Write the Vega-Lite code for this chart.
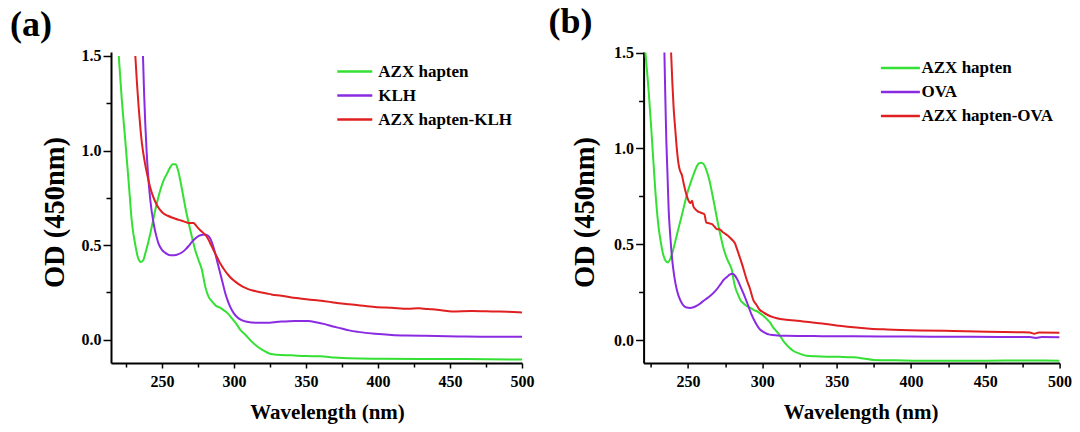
{
  "$schema": "https://vega.github.io/schema/vega-lite/v6.json",
  "background": "white",
  "padding": {"left": 10, "top": 3, "right": 5, "bottom": 5},
  "bounds": "flush",
  "spacing": 121.6,
  "config": {
    "font": "Liberation Serif",
    "view": {"stroke": null},
    "axis": {"domainColor": "black", "domainWidth": 2, "tickColor": "black", "tickWidth": 1.5, "labelFont": "Liberation Serif", "labelFontWeight": "bold", "labelFontSize": 16, "labelColor": "black", "titleFont": "Liberation Serif", "titleFontWeight": "bold", "titleColor": "black", "grid": false},
    "legend": {"orient": "none", "title": null, "symbolType": "M-5,0H5", "symbolStrokeWidth": 2.5, "labelFont": "Liberation Serif", "labelFontWeight": "bold", "labelFontSize": 17, "labelColor": "black", "rowPadding": 6, "padding": 0},
    "title": {"font": "Liberation Serif", "fontWeight": "bold", "fontSize": 36, "color": "black", "anchor": "start", "frame": "group", "offset": 4}
  },
  "datasets": {
    "a": [
      {"x":220,"y":1.5,"s":"AZX hapten"},{"x":222,"y":1.28,"s":"AZX hapten"},{"x":224.5,"y":1.054,"s":"AZX hapten"},{"x":227,"y":0.82,"s":"AZX hapten"},{"x":229.2,"y":0.614,"s":"AZX hapten"},{"x":231.5,"y":0.5,"s":"AZX hapten"},{"x":233.5,"y":0.43,"s":"AZX hapten"},{"x":235.4,"y":0.411,"s":"AZX hapten"},{"x":237,"y":0.42,"s":"AZX hapten"},{"x":238.4,"y":0.455,"s":"AZX hapten"},{"x":240,"y":0.5,"s":"AZX hapten"},{"x":241.9,"y":0.561,"s":"AZX hapten"},{"x":245.3,"y":0.684,"s":"AZX hapten"},{"x":248.8,"y":0.79,"s":"AZX hapten"},{"x":251,"y":0.84,"s":"AZX hapten"},{"x":253.5,"y":0.878,"s":"AZX hapten"},{"x":256,"y":0.915,"s":"AZX hapten"},{"x":257.5,"y":0.927,"s":"AZX hapten"},{"x":259.5,"y":0.927,"s":"AZX hapten"},{"x":260.8,"y":0.905,"s":"AZX hapten"},{"x":262.7,"y":0.843,"s":"AZX hapten"},{"x":264.5,"y":0.77,"s":"AZX hapten"},{"x":266.2,"y":0.7,"s":"AZX hapten"},{"x":269.7,"y":0.578,"s":"AZX hapten"},{"x":273.1,"y":0.473,"s":"AZX hapten"},{"x":275.4,"y":0.42,"s":"AZX hapten"},{"x":277.8,"y":0.367,"s":"AZX hapten"},{"x":280.1,"y":0.279,"s":"AZX hapten"},{"x":282.4,"y":0.226,"s":"AZX hapten"},{"x":285,"y":0.2,"s":"AZX hapten"},{"x":287,"y":0.182,"s":"AZX hapten"},{"x":290,"y":0.17,"s":"AZX hapten"},{"x":292.8,"y":0.156,"s":"AZX hapten"},{"x":295.5,"y":0.14,"s":"AZX hapten"},{"x":298.6,"y":0.112,"s":"AZX hapten"},{"x":301.5,"y":0.085,"s":"AZX hapten"},{"x":304.4,"y":0.052,"s":"AZX hapten"},{"x":307.4,"y":0.03,"s":"AZX hapten"},{"x":312.5,"y":-0.012,"s":"AZX hapten"},{"x":316,"y":-0.035,"s":"AZX hapten"},{"x":320,"y":-0.055,"s":"AZX hapten"},{"x":325,"y":-0.075,"s":"AZX hapten"},{"x":330,"y":-0.08,"s":"AZX hapten"},{"x":340,"y":-0.083,"s":"AZX hapten"},{"x":350,"y":-0.087,"s":"AZX hapten"},{"x":360,"y":-0.088,"s":"AZX hapten"},{"x":370,"y":-0.095,"s":"AZX hapten"},{"x":380,"y":-0.099,"s":"AZX hapten"},{"x":400,"y":-0.101,"s":"AZX hapten"},{"x":430,"y":-0.102,"s":"AZX hapten"},{"x":460,"y":-0.103,"s":"AZX hapten"},{"x":500,"y":-0.105,"s":"AZX hapten"},
      {"x":236.8,"y":1.5,"s":"KLH"},{"x":237.6,"y":1.3,"s":"KLH"},{"x":238.4,"y":1.142,"s":"KLH"},{"x":239.3,"y":1.0,"s":"KLH"},{"x":240.3,"y":0.878,"s":"KLH"},{"x":241.9,"y":0.737,"s":"KLH"},{"x":244.2,"y":0.614,"s":"KLH"},{"x":246,"y":0.55,"s":"KLH"},{"x":247.6,"y":0.508,"s":"KLH"},{"x":250,"y":0.475,"s":"KLH"},{"x":252.3,"y":0.459,"s":"KLH"},{"x":255.8,"y":0.446,"s":"KLH"},{"x":258.5,"y":0.446,"s":"KLH"},{"x":261.5,"y":0.452,"s":"KLH"},{"x":264,"y":0.462,"s":"KLH"},{"x":266.2,"y":0.476,"s":"KLH"},{"x":268.5,"y":0.495,"s":"KLH"},{"x":270.8,"y":0.517,"s":"KLH"},{"x":273.5,"y":0.537,"s":"KLH"},{"x":276.6,"y":0.552,"s":"KLH"},{"x":280.1,"y":0.556,"s":"KLH"},{"x":282,"y":0.549,"s":"KLH"},{"x":283.5,"y":0.535,"s":"KLH"},{"x":285.3,"y":0.5,"s":"KLH"},{"x":287,"y":0.455,"s":"KLH"},{"x":288.8,"y":0.4,"s":"KLH"},{"x":290.5,"y":0.35,"s":"KLH"},{"x":292.3,"y":0.295,"s":"KLH"},{"x":294,"y":0.244,"s":"KLH"},{"x":295.7,"y":0.205,"s":"KLH"},{"x":297.4,"y":0.173,"s":"KLH"},{"x":299.8,"y":0.14,"s":"KLH"},{"x":302.1,"y":0.12,"s":"KLH"},{"x":305,"y":0.104,"s":"KLH"},{"x":309,"y":0.094,"s":"KLH"},{"x":315,"y":0.089,"s":"KLH"},{"x":322.9,"y":0.089,"s":"KLH"},{"x":330.6,"y":0.094,"s":"KLH"},{"x":342.2,"y":0.099,"s":"KLH"},{"x":351.5,"y":0.098,"s":"KLH"},{"x":357,"y":0.092,"s":"KLH"},{"x":363.1,"y":0.082,"s":"KLH"},{"x":368,"y":0.071,"s":"KLH"},{"x":374.7,"y":0.059,"s":"KLH"},{"x":380,"y":0.049,"s":"KLH"},{"x":386.3,"y":0.041,"s":"KLH"},{"x":397.9,"y":0.031,"s":"KLH"},{"x":409.5,"y":0.025,"s":"KLH"},{"x":420,"y":0.022,"s":"KLH"},{"x":432.7,"y":0.02,"s":"KLH"},{"x":455.9,"y":0.017,"s":"KLH"},{"x":479.1,"y":0.015,"s":"KLH"},{"x":500,"y":0.015,"s":"KLH"},
      {"x":231.5,"y":1.5,"s":"AZX hapten-KLH"},{"x":232.6,"y":1.36,"s":"AZX hapten-KLH"},{"x":233.8,"y":1.23,"s":"AZX hapten-KLH"},{"x":235,"y":1.12,"s":"AZX hapten-KLH"},{"x":236.1,"y":1.036,"s":"AZX hapten-KLH"},{"x":237.8,"y":0.95,"s":"AZX hapten-KLH"},{"x":239.6,"y":0.878,"s":"AZX hapten-KLH"},{"x":241.3,"y":0.82,"s":"AZX hapten-KLH"},{"x":243.1,"y":0.772,"s":"AZX hapten-KLH"},{"x":246.5,"y":0.711,"s":"AZX hapten-KLH"},{"x":248.8,"y":0.685,"s":"AZX hapten-KLH"},{"x":251.1,"y":0.667,"s":"AZX hapten-KLH"},{"x":254,"y":0.655,"s":"AZX hapten-KLH"},{"x":256.9,"y":0.646,"s":"AZX hapten-KLH"},{"x":259.8,"y":0.638,"s":"AZX hapten-KLH"},{"x":262.7,"y":0.631,"s":"AZX hapten-KLH"},{"x":265.6,"y":0.624,"s":"AZX hapten-KLH"},{"x":268.5,"y":0.617,"s":"AZX hapten-KLH"},{"x":271.9,"y":0.617,"s":"AZX hapten-KLH"},{"x":274,"y":0.6,"s":"AZX hapten-KLH"},{"x":276.6,"y":0.578,"s":"AZX hapten-KLH"},{"x":279,"y":0.562,"s":"AZX hapten-KLH"},{"x":281.2,"y":0.543,"s":"AZX hapten-KLH"},{"x":283.5,"y":0.51,"s":"AZX hapten-KLH"},{"x":285.8,"y":0.473,"s":"AZX hapten-KLH"},{"x":288.2,"y":0.437,"s":"AZX hapten-KLH"},{"x":290.5,"y":0.402,"s":"AZX hapten-KLH"},{"x":292.8,"y":0.375,"s":"AZX hapten-KLH"},{"x":295.1,"y":0.35,"s":"AZX hapten-KLH"},{"x":297.4,"y":0.33,"s":"AZX hapten-KLH"},{"x":299.7,"y":0.314,"s":"AZX hapten-KLH"},{"x":303,"y":0.295,"s":"AZX hapten-KLH"},{"x":306,"y":0.28,"s":"AZX hapten-KLH"},{"x":309,"y":0.27,"s":"AZX hapten-KLH"},{"x":313,"y":0.26,"s":"AZX hapten-KLH"},{"x":316.7,"y":0.253,"s":"AZX hapten-KLH"},{"x":322.9,"y":0.244,"s":"AZX hapten-KLH"},{"x":326,"y":0.239,"s":"AZX hapten-KLH"},{"x":333,"y":0.232,"s":"AZX hapten-KLH"},{"x":339.9,"y":0.223,"s":"AZX hapten-KLH"},{"x":346,"y":0.218,"s":"AZX hapten-KLH"},{"x":351.5,"y":0.212,"s":"AZX hapten-KLH"},{"x":358.8,"y":0.207,"s":"AZX hapten-KLH"},{"x":363.1,"y":0.203,"s":"AZX hapten-KLH"},{"x":368,"y":0.198,"s":"AZX hapten-KLH"},{"x":374.7,"y":0.191,"s":"AZX hapten-KLH"},{"x":380,"y":0.187,"s":"AZX hapten-KLH"},{"x":386.3,"y":0.182,"s":"AZX hapten-KLH"},{"x":397.9,"y":0.173,"s":"AZX hapten-KLH"},{"x":409.5,"y":0.168,"s":"AZX hapten-KLH"},{"x":421.1,"y":0.163,"s":"AZX hapten-KLH"},{"x":428,"y":0.166,"s":"AZX hapten-KLH"},{"x":432,"y":0.163,"s":"AZX hapten-KLH"},{"x":437.4,"y":0.16,"s":"AZX hapten-KLH"},{"x":444,"y":0.155,"s":"AZX hapten-KLH"},{"x":451.3,"y":0.149,"s":"AZX hapten-KLH"},{"x":465.2,"y":0.151,"s":"AZX hapten-KLH"},{"x":479.1,"y":0.149,"s":"AZX hapten-KLH"},{"x":490,"y":0.147,"s":"AZX hapten-KLH"},{"x":500,"y":0.144,"s":"AZX hapten-KLH"}
    ],
    "b": [
      {"x":221.3,"y":1.5,"s":"AZX hapten"},{"x":223.5,"y":1.3,"s":"AZX hapten"},{"x":225.8,"y":1.039,"s":"AZX hapten"},{"x":228,"y":0.779,"s":"AZX hapten"},{"x":230.2,"y":0.588,"s":"AZX hapten"},{"x":231.7,"y":0.51,"s":"AZX hapten"},{"x":233.2,"y":0.449,"s":"AZX hapten"},{"x":234.8,"y":0.415,"s":"AZX hapten"},{"x":236.3,"y":0.405,"s":"AZX hapten"},{"x":237.8,"y":0.42,"s":"AZX hapten"},{"x":239.2,"y":0.449,"s":"AZX hapten"},{"x":242.6,"y":0.553,"s":"AZX hapten"},{"x":246,"y":0.657,"s":"AZX hapten"},{"x":249.3,"y":0.761,"s":"AZX hapten"},{"x":253.8,"y":0.866,"s":"AZX hapten"},{"x":255.5,"y":0.9,"s":"AZX hapten"},{"x":257.1,"y":0.921,"s":"AZX hapten"},{"x":258.8,"y":0.925,"s":"AZX hapten"},{"x":260.5,"y":0.918,"s":"AZX hapten"},{"x":262.2,"y":0.89,"s":"AZX hapten"},{"x":263.9,"y":0.848,"s":"AZX hapten"},{"x":267.2,"y":0.727,"s":"AZX hapten"},{"x":270.6,"y":0.59,"s":"AZX hapten"},{"x":272.3,"y":0.53,"s":"AZX hapten"},{"x":274,"y":0.475,"s":"AZX hapten"},{"x":276.2,"y":0.425,"s":"AZX hapten"},{"x":278,"y":0.395,"s":"AZX hapten"},{"x":279.6,"y":0.362,"s":"AZX hapten"},{"x":280.5,"y":0.32,"s":"AZX hapten"},{"x":281.8,"y":0.275,"s":"AZX hapten"},{"x":283.5,"y":0.24,"s":"AZX hapten"},{"x":285.2,"y":0.21,"s":"AZX hapten"},{"x":287.5,"y":0.19,"s":"AZX hapten"},{"x":289.7,"y":0.177,"s":"AZX hapten"},{"x":292,"y":0.168,"s":"AZX hapten"},{"x":294.1,"y":0.158,"s":"AZX hapten"},{"x":297,"y":0.148,"s":"AZX hapten"},{"x":300.2,"y":0.13,"s":"AZX hapten"},{"x":303,"y":0.11,"s":"AZX hapten"},{"x":305.4,"y":0.09,"s":"AZX hapten"},{"x":307.2,"y":0.067,"s":"AZX hapten"},{"x":309.7,"y":0.045,"s":"AZX hapten"},{"x":312,"y":0.022,"s":"AZX hapten"},{"x":314,"y":-0.003,"s":"AZX hapten"},{"x":317,"y":-0.03,"s":"AZX hapten"},{"x":320.7,"y":-0.055,"s":"AZX hapten"},{"x":325,"y":-0.07,"s":"AZX hapten"},{"x":329.7,"y":-0.081,"s":"AZX hapten"},{"x":336,"y":-0.084,"s":"AZX hapten"},{"x":343.2,"y":-0.086,"s":"AZX hapten"},{"x":352,"y":-0.087,"s":"AZX hapten"},{"x":361.3,"y":-0.089,"s":"AZX hapten"},{"x":368,"y":-0.095,"s":"AZX hapten"},{"x":374.8,"y":-0.103,"s":"AZX hapten"},{"x":390,"y":-0.105,"s":"AZX hapten"},{"x":406.3,"y":-0.107,"s":"AZX hapten"},{"x":430,"y":-0.107,"s":"AZX hapten"},{"x":451.4,"y":-0.107,"s":"AZX hapten"},{"x":475,"y":-0.106,"s":"AZX hapten"},{"x":500,"y":-0.107,"s":"AZX hapten"},
      {"x":234.1,"y":1.5,"s":"OVA"},{"x":234.7,"y":1.27,"s":"OVA"},{"x":235.4,"y":1.039,"s":"OVA"},{"x":236.2,"y":0.86,"s":"OVA"},{"x":236.9,"y":0.692,"s":"OVA"},{"x":238,"y":0.55,"s":"OVA"},{"x":239.2,"y":0.431,"s":"OVA"},{"x":240.8,"y":0.33,"s":"OVA"},{"x":242.6,"y":0.258,"s":"OVA"},{"x":244.7,"y":0.21,"s":"OVA"},{"x":247,"y":0.18,"s":"OVA"},{"x":249,"y":0.17,"s":"OVA"},{"x":251.5,"y":0.168,"s":"OVA"},{"x":253.7,"y":0.172,"s":"OVA"},{"x":256,"y":0.18,"s":"OVA"},{"x":258,"y":0.19,"s":"OVA"},{"x":260.5,"y":0.206,"s":"OVA"},{"x":262.7,"y":0.218,"s":"OVA"},{"x":265,"y":0.232,"s":"OVA"},{"x":268.3,"y":0.256,"s":"OVA"},{"x":271.7,"y":0.29,"s":"OVA"},{"x":274,"y":0.315,"s":"OVA"},{"x":276.2,"y":0.33,"s":"OVA"},{"x":278,"y":0.342,"s":"OVA"},{"x":279.6,"y":0.346,"s":"OVA"},{"x":281.2,"y":0.34,"s":"OVA"},{"x":283,"y":0.319,"s":"OVA"},{"x":285,"y":0.285,"s":"OVA"},{"x":287.4,"y":0.241,"s":"OVA"},{"x":290,"y":0.19,"s":"OVA"},{"x":292.6,"y":0.136,"s":"OVA"},{"x":295.5,"y":0.09,"s":"OVA"},{"x":298.2,"y":0.058,"s":"OVA"},{"x":301.5,"y":0.04,"s":"OVA"},{"x":305,"y":0.029,"s":"OVA"},{"x":310,"y":0.025,"s":"OVA"},{"x":316.2,"y":0.023,"s":"OVA"},{"x":340,"y":0.021,"s":"OVA"},{"x":361.3,"y":0.02,"s":"OVA"},{"x":400,"y":0.019,"s":"OVA"},{"x":428.8,"y":0.018,"s":"OVA"},{"x":460,"y":0.017,"s":"OVA"},{"x":480,"y":0.016,"s":"OVA"},{"x":484,"y":0.012,"s":"OVA"},{"x":488,"y":0.016,"s":"OVA"},{"x":500,"y":0.015,"s":"OVA"},
      {"x":238.6,"y":1.5,"s":"AZX hapten-OVA"},{"x":239.4,"y":1.35,"s":"AZX hapten-OVA"},{"x":240.3,"y":1.213,"s":"AZX hapten-OVA"},{"x":241.4,"y":1.1,"s":"AZX hapten-OVA"},{"x":242.6,"y":0.987,"s":"AZX hapten-OVA"},{"x":243.4,"y":0.93,"s":"AZX hapten-OVA"},{"x":244.3,"y":0.892,"s":"AZX hapten-OVA"},{"x":246,"y":0.857,"s":"AZX hapten-OVA"},{"x":247,"y":0.82,"s":"AZX hapten-OVA"},{"x":248.2,"y":0.779,"s":"AZX hapten-OVA"},{"x":250.4,"y":0.727,"s":"AZX hapten-OVA"},{"x":251.5,"y":0.715,"s":"AZX hapten-OVA"},{"x":252.7,"y":0.727,"s":"AZX hapten-OVA"},{"x":253.5,"y":0.7,"s":"AZX hapten-OVA"},{"x":254.9,"y":0.683,"s":"AZX hapten-OVA"},{"x":256.5,"y":0.672,"s":"AZX hapten-OVA"},{"x":258.3,"y":0.666,"s":"AZX hapten-OVA"},{"x":261,"y":0.657,"s":"AZX hapten-OVA"},{"x":262.3,"y":0.613,"s":"AZX hapten-OVA"},{"x":264,"y":0.61,"s":"AZX hapten-OVA"},{"x":266.2,"y":0.605,"s":"AZX hapten-OVA"},{"x":268,"y":0.59,"s":"AZX hapten-OVA"},{"x":269.5,"y":0.579,"s":"AZX hapten-OVA"},{"x":271.2,"y":0.579,"s":"AZX hapten-OVA"},{"x":272.9,"y":0.567,"s":"AZX hapten-OVA"},{"x":275,"y":0.555,"s":"AZX hapten-OVA"},{"x":277.6,"y":0.54,"s":"AZX hapten-OVA"},{"x":279.5,"y":0.525,"s":"AZX hapten-OVA"},{"x":281.8,"y":0.501,"s":"AZX hapten-OVA"},{"x":282.5,"y":0.485,"s":"AZX hapten-OVA"},{"x":284.5,"y":0.44,"s":"AZX hapten-OVA"},{"x":286.6,"y":0.39,"s":"AZX hapten-OVA"},{"x":288.5,"y":0.34,"s":"AZX hapten-OVA"},{"x":289.7,"y":0.31,"s":"AZX hapten-OVA"},{"x":291.4,"y":0.275,"s":"AZX hapten-OVA"},{"x":294.1,"y":0.206,"s":"AZX hapten-OVA"},{"x":296,"y":0.185,"s":"AZX hapten-OVA"},{"x":298,"y":0.16,"s":"AZX hapten-OVA"},{"x":300.7,"y":0.145,"s":"AZX hapten-OVA"},{"x":304,"y":0.13,"s":"AZX hapten-OVA"},{"x":307.2,"y":0.12,"s":"AZX hapten-OVA"},{"x":312.1,"y":0.11,"s":"AZX hapten-OVA"},{"x":316.2,"y":0.107,"s":"AZX hapten-OVA"},{"x":323.3,"y":0.101,"s":"AZX hapten-OVA"},{"x":327.5,"y":0.098,"s":"AZX hapten-OVA"},{"x":338.7,"y":0.088,"s":"AZX hapten-OVA"},{"x":350,"y":0.077,"s":"AZX hapten-OVA"},{"x":361.3,"y":0.067,"s":"AZX hapten-OVA"},{"x":372.5,"y":0.06,"s":"AZX hapten-OVA"},{"x":383.8,"y":0.056,"s":"AZX hapten-OVA"},{"x":406.3,"y":0.051,"s":"AZX hapten-OVA"},{"x":428.8,"y":0.048,"s":"AZX hapten-OVA"},{"x":451.4,"y":0.044,"s":"AZX hapten-OVA"},{"x":473.9,"y":0.041,"s":"AZX hapten-OVA"},{"x":480,"y":0.04,"s":"AZX hapten-OVA"},{"x":483,"y":0.034,"s":"AZX hapten-OVA"},{"x":486,"y":0.04,"s":"AZX hapten-OVA"},{"x":500,"y":0.039,"s":"AZX hapten-OVA"}
    ]
  },
  "resolve": {"scale": {"x": "independent", "y": "independent", "color": "independent"}, "legend": {"color": "independent"}},
  "hconcat": [
    {
      "width": 411, "height": 311,
      "title": {"text": "(a)", "dx": -101},
      "data": {"name": "a"},
      "mark": {"type": "line", "strokeWidth": 2, "interpolate": "monotone", "clip": true},
      "encoding": {
        "x": {"field": "x", "type": "quantitative", "scale": {"domain": [214.6, 500], "nice": false, "zero": false},
          "axis": {"title": "Wavelength (nm)", "titleFontSize": 21, "titleX": 216, "titleY": 49, "titleBaseline": "middle", "titleAlign": "center", "values": [225,250,275,300,325,350,375,400,425,450,475,500], "labelExpr": "datum.value % 50 == 0 ? datum.label : ''", "labelPadding": 5, "labelFlush": false, "tickSize": {"condition": {"test": "datum.value % 50 == 0", "value": 5}, "value": 4}}},
        "y": {"field": "y", "type": "quantitative", "scale": {"domain": [-0.1236, 1.521], "nice": false, "zero": false},
          "axis": {"title": "OD (450nm)", "titleFontSize": 28.5, "titleX": -57, "titleY": 160, "titleAngle": -90, "titleBaseline": "middle", "titleAlign": "center", "values": [0,0.25,0.5,0.75,1,1.25,1.5], "format": ".1f", "labelExpr": "datum.value*2 == round(datum.value*2) ? datum.label : ''", "labelPadding": 2, "labelFlush": false, "tickSize": {"condition": {"test": "datum.value*2 == round(datum.value*2)", "value": 8}, "value": 5}}},
        "color": {"field": "s", "type": "nominal", "scale": {"domain": ["AZX hapten", "KLH", "AZX hapten-KLH"], "range": ["#33e033", "#8a2be2", "#e02020"]},
          "legend": {"legendX": 235.3, "legendY": 11, "symbolSize": 49, "labelOffset": 15}}
      }
    },
    {
      "width": 416, "height": 311,
      "title": {"text": "(b)", "dx": -95},
      "data": {"name": "b"},
      "mark": {"type": "line", "strokeWidth": 2, "interpolate": "monotone", "clip": true},
      "encoding": {
        "x": {"field": "x", "type": "quantitative", "scale": {"domain": [220.1, 500], "nice": false, "zero": false},
          "axis": {"title": "Wavelength (nm)", "titleFontSize": 21, "titleX": 217, "titleY": 49, "titleBaseline": "middle", "titleAlign": "center", "values": [225,250,275,300,325,350,375,400,425,450,475,500], "labelExpr": "datum.value % 50 == 0 ? datum.label : ''", "labelPadding": 5, "labelFlush": false, "tickSize": {"condition": {"test": "datum.value % 50 == 0", "value": 5}, "value": 4}}},
        "y": {"field": "y", "type": "quantitative", "scale": {"domain": [-0.119, 1.503], "nice": false, "zero": false},
          "axis": {"title": "OD (450nm)", "titleFontSize": 28.5, "titleX": -59, "titleY": 160, "titleAngle": -90, "titleBaseline": "middle", "titleAlign": "center", "values": [0,0.25,0.5,0.75,1,1.25,1.5], "format": ".1f", "labelExpr": "datum.value*2 == round(datum.value*2) ? datum.label : ''", "labelPadding": 2, "labelFlush": false, "tickSize": {"condition": {"test": "datum.value*2 == round(datum.value*2)", "value": 8}, "value": 5}}},
        "color": {"field": "s", "type": "nominal", "scale": {"domain": ["AZX hapten", "OVA", "AZX hapten-OVA"], "range": ["#33e033", "#8a2be2", "#e02020"]},
          "legend": {"legendX": 248.3, "legendY": 7.6, "symbolSize": 60.84, "labelOffset": 12.6}}
      }
    }
  ]
}
